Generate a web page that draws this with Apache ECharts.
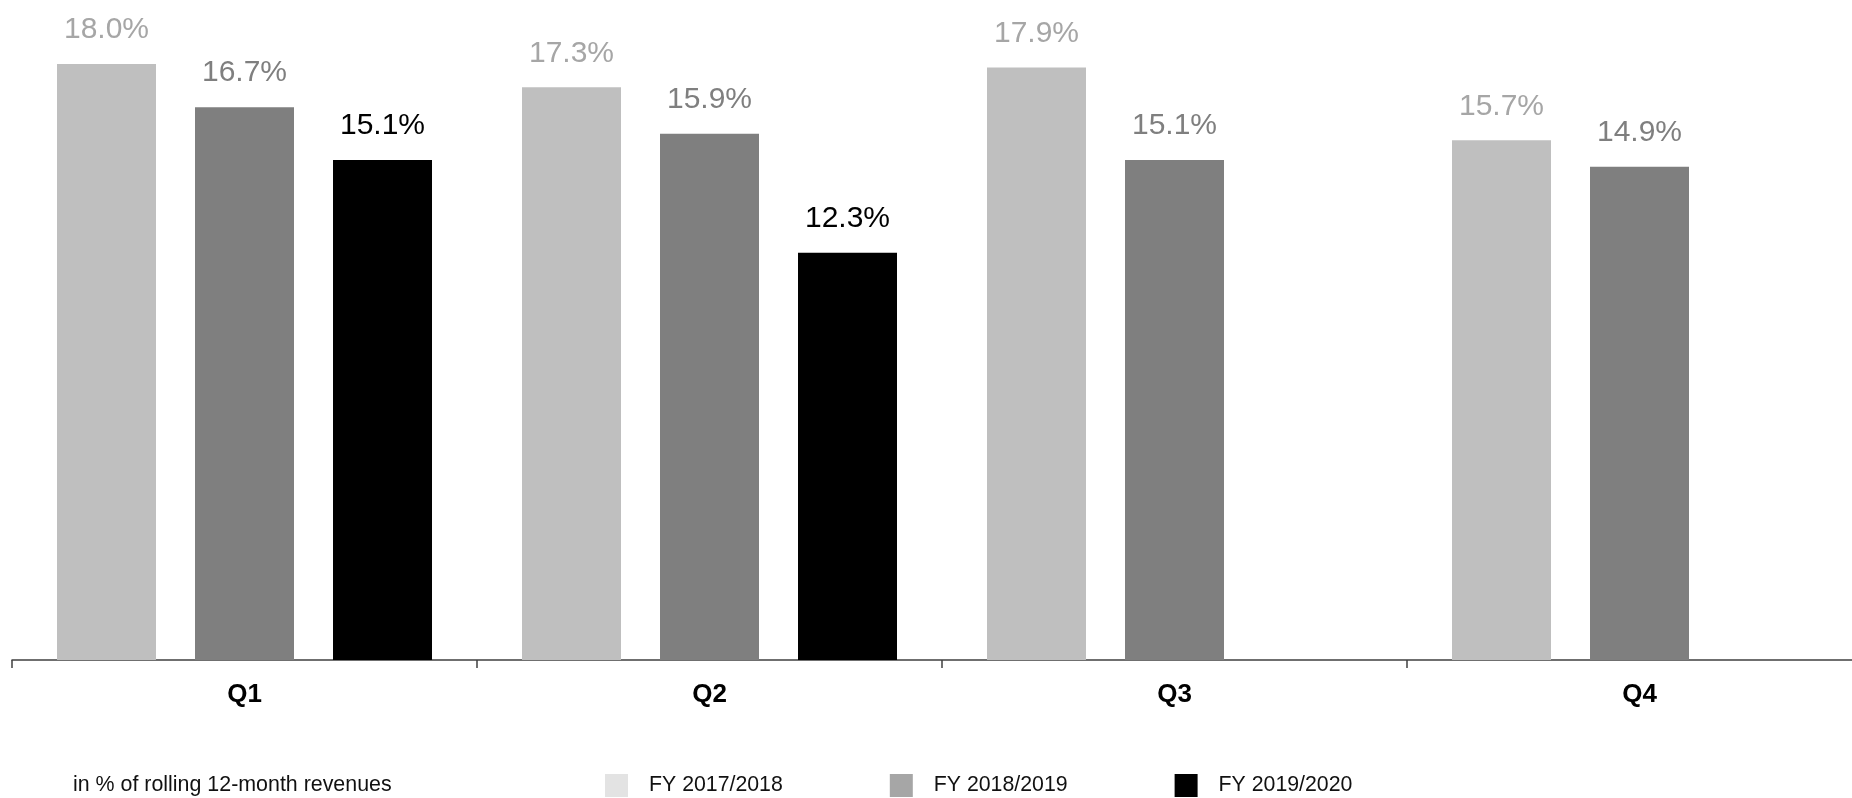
<!DOCTYPE html>
<html>
<head>
<meta charset="utf-8">
<title>Quarterly ratio, rolling 12-month revenues</title>
<script src="https://cdn.jsdelivr.net/npm/echarts@6/dist/echarts.min.js"></script>
<style>
  html, body { margin: 0; padding: 0; background: #ffffff; }
  #chart { width: 1852px; height: 798px; }
</style>
</head>
<body>
<div id="chart"></div>
<script>
// Quarters on the category axis
const quarters = ['Q1', 'Q2', 'Q3', 'Q4'];

// Fiscal-year series names
const seriesNames = ['FY 2017/2018', 'FY 2018/2019', 'FY 2019/2020'];

// Values in % of rolling 12-month revenues ('-' = no data yet)
const fy1718 = [18.0, 17.3, 17.9, 15.7];
const fy1819 = [16.7, 15.9, 15.1, 14.9];
const fy1920 = [15.1, 12.3, '-', '-'];

const footnote = 'in % of rolling 12-month revenues';

const FONT = '"Liberation Sans", Arial, Helvetica, sans-serif';

const barColors    = ['#bfbfbf', '#7f7f7f', '#000000'];
const labelColors  = ['#a6a6a6', '#7f7f7f', '#000000'];
const legendColors = ['#e3e3e3', '#a6a6a6', '#000000'];

const seriesData = [fy1718, fy1819, fy1920];

const chart = echarts.init(document.getElementById('chart'), null, { renderer: 'canvas' });

chart.setOption({
  animation: false,
  backgroundColor: '#ffffff',
  title: {
    text: footnote,
    left: 73,
    top: 775,
    padding: 0,
    textStyle: { fontFamily: FONT, fontSize: 21.4, fontWeight: 'normal', color: '#111111' }
  },
  legend: {
    left: 605,
    top: 774,
    padding: 0,
    itemWidth: 23,
    itemHeight: 23,
    itemGap: 107,
    selectedMode: false,
    icon: 'rect',
    textStyle: { fontFamily: FONT, fontSize: 21.3, color: '#111111', padding: [0, 0, 0, 16] },
    data: seriesNames.map((n, i) => ({ name: n, itemStyle: { color: legendColors[i] } }))
  },
  // the plot runs a little past the right edge, so the last quarter is cut off
  grid: {
    left: 12,
    width: 1860,
    top: 31,
    bottom: 138,
    containLabel: false,
    outerBoundsMode: 'none'
  },
  xAxis: {
    type: 'category',
    data: quarters,
    axisLine: { lineStyle: { color: '#404040', width: 1.5 } },
    axisTick: { show: true, length: 8, lineStyle: { color: '#404040', width: 1.5 } },
    axisLabel: {
      margin: 22,
      fontFamily: FONT,
      fontSize: 26,
      fontWeight: 'bold',
      color: '#000000'
    }
  },
  yAxis: {
    type: 'value',
    min: 0,
    max: 19,
    show: false,
    splitLine: { show: false }
  },
  series: seriesNames.map((name, i) => ({
    name: name,
    type: 'bar',
    data: seriesData[i],
    barWidth: 99,
    barGap: '39.4%',
    itemStyle: { color: barColors[i] },
    label: {
      show: true,
      position: 'top',
      distance: 19,
      fontFamily: FONT,
      fontSize: 30,
      color: labelColors[i],
      formatter: p => p.value.toFixed(1) + '%'
    }
  }))
});
</script>
</body>
</html>
